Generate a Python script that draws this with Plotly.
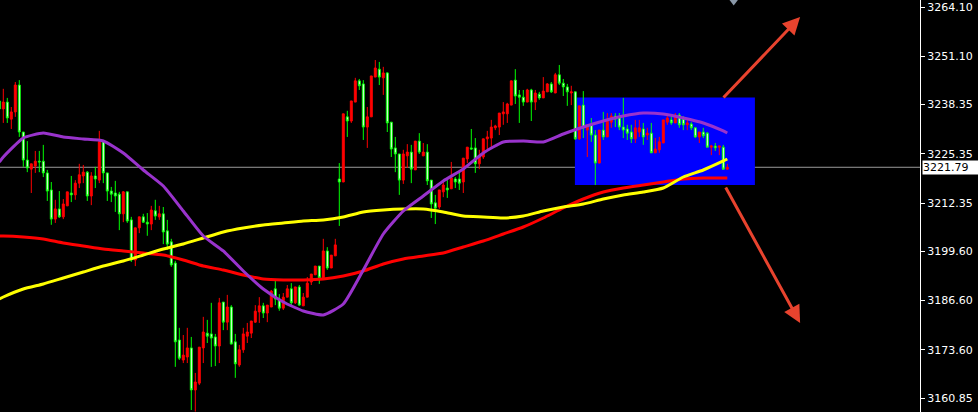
import plotly.graph_objects as go

# ---- candle data (index -1 .. 181) ----
idx = list(range(-1, 182))

opens = [
3239.3, 3237.2, 3239.0, 3234.5, 3236.4, 3243.5, 3231.1, 3223.7, 3221.3, 3222.1,
3223.4, 3223.4, 3220.3, 3215.8, 3208.1, 3210.8, 3208.7, 3211.6, 3215.0, 3214.5,
3217.6, 3219.5, 3220.5, 3214.2, 3219.5, 3218.4, 3228.7, 3220.3, 3215.5, 3215.0,
3214.7, 3209.5, 3215.3, 3207.9, 3197.3, 3205.8, 3208.7, 3207.3, 3206.8, 3210.3,
3208.7, 3209.5, 3205.0, 3202.1, 3196.5, 3176.2, 3170.9, 3171.7, 3174.1, 3163.0,
3164.8, 3174.1, 3178.0, 3177.8, 3177.0, 3174.6, 3186.2, 3180.9, 3184.9, 3175.7,
3169.6, 3173.6, 3177.2, 3178.0, 3180.9, 3183.6, 3185.2, 3183.3, 3184.9, 3189.7,
3187.0, 3184.6, 3187.5, 3189.7, 3186.0, 3190.2, 3185.2, 3187.5, 3191.5, 3193.4,
3195.7, 3192.6, 3199.7, 3195.2, 3198.4, 3218.7, 3217.9, 3235.1, 3234.0, 3239.0,
3244.6, 3243.8, 3232.4, 3235.1, 3245.6, 3247.7, 3245.4, 3246.7, 3233.7, 3226.9,
3225.3, 3218.4, 3224.8, 3225.8, 3221.1, 3228.7, 3224.8, 3225.8, 3218.4, 3212.4,
3211.3, 3215.3, 3216.3, 3216.1, 3218.7, 3218.7, 3217.9, 3224.0, 3226.9, 3226.9,
3222.7, 3224.5, 3229.3, 3229.5, 3232.2, 3232.4, 3235.9, 3235.9, 3238.2, 3244.8,
3240.9, 3240.3, 3239.0, 3242.2, 3239.0, 3241.1, 3240.1, 3241.7, 3243.8, 3241.4,
3246.2, 3244.0, 3243.0, 3241.4, 3241.7, 3229.3, 3238.2, 3231.6, 3233.0, 3230.3,
3222.9, 3231.6, 3229.8, 3233.7, 3235.3, 3234.8, 3232.4, 3231.9, 3231.1, 3229.3,
3231.1, 3231.9, 3230.3, 3230.8, 3225.6, 3226.4, 3228.2, 3233.7, 3234.3, 3233.5,
3235.6, 3234.5, 3233.0, 3233.2, 3232.2, 3229.8, 3231.1, 3230.8, 3227.1, 3227.4,
3227.1, 3227.1, 3221.3]

closes = [
3237.2, 3239.0, 3234.8, 3236.4, 3243.5, 3231.1, 3223.7, 3221.6, 3222.7, 3223.4,
3223.2, 3220.3, 3215.5, 3208.1, 3210.8, 3208.7, 3212.1, 3215.3, 3214.5, 3217.6,
3219.8, 3220.5, 3214.2, 3219.5, 3218.7, 3228.5, 3220.3, 3215.5, 3214.7, 3214.2,
3209.5, 3215.3, 3207.6, 3197.3, 3205.8, 3208.7, 3207.3, 3206.8, 3210.5, 3208.9,
3209.5, 3204.7, 3201.5, 3196.0, 3175.7, 3171.4, 3172.2, 3174.1, 3163.0, 3165.1,
3174.3, 3178.3, 3177.2, 3176.7, 3174.6, 3186.0, 3180.9, 3184.9, 3175.1, 3169.9,
3173.6, 3177.8, 3178.3, 3181.2, 3183.8, 3185.2, 3183.3, 3185.4, 3189.1, 3187.0,
3184.6, 3187.5, 3189.7, 3186.0, 3190.2, 3185.4, 3187.5, 3191.2, 3193.6, 3195.7,
3192.6, 3199.7, 3195.2, 3198.6, 3201.3, 3217.9, 3235.9, 3234.0, 3239.3, 3244.6,
3243.3, 3232.4, 3235.1, 3245.9, 3248.0, 3245.6, 3246.7, 3233.5, 3226.6, 3225.3,
3218.4, 3225.3, 3225.8, 3221.3, 3228.7, 3225.8, 3225.8, 3218.2, 3212.1, 3211.0,
3215.8, 3217.1, 3215.8, 3219.0, 3217.9, 3217.6, 3224.2, 3227.1, 3226.6, 3222.7,
3224.8, 3229.3, 3229.8, 3232.4, 3232.7, 3236.1, 3236.4, 3238.5, 3244.6, 3240.6,
3240.3, 3239.0, 3242.2, 3239.0, 3241.4, 3240.1, 3241.9, 3243.8, 3241.7, 3246.2,
3244.0, 3243.0, 3241.7, 3241.7, 3229.3, 3238.0, 3232.2, 3233.0, 3230.3, 3222.9,
3231.6, 3229.8, 3234.3, 3235.3, 3234.5, 3232.4, 3231.6, 3230.8, 3229.3, 3232.2,
3232.2, 3229.8, 3230.8, 3225.6, 3226.6, 3228.5, 3234.3, 3234.8, 3233.5, 3235.6,
3233.0, 3233.0, 3233.5, 3232.2, 3229.8, 3231.1, 3230.1, 3227.1, 3227.4, 3226.9,
3227.4, 3221.3, 3221.79]

highs = [
3240.1, 3242.5, 3240.1, 3237.7, 3244.3, 3244.8, 3231.1, 3228.7, 3222.7, 3226.1,
3226.1, 3227.7, 3221.1, 3217.9, 3213.2, 3215.5, 3213.4, 3215.3, 3219.5, 3218.4,
3222.7, 3222.4, 3220.8, 3220.5, 3221.9, 3231.4, 3229.0, 3220.3, 3216.6, 3218.2,
3215.3, 3215.5, 3215.3, 3208.7, 3205.8, 3208.7, 3209.5, 3209.7, 3211.6, 3213.2,
3211.6, 3211.3, 3207.9, 3202.9, 3197.1, 3179.4, 3177.5, 3179.4, 3177.0, 3167.5,
3174.3, 3182.3, 3181.5, 3186.0, 3177.8, 3187.3, 3186.2, 3188.1, 3185.4, 3177.8,
3174.9, 3179.4, 3180.7, 3181.2, 3185.4, 3187.5, 3186.0, 3185.4, 3189.4, 3192.3,
3188.3, 3188.6, 3190.7, 3191.2, 3190.2, 3190.7, 3188.6, 3192.8, 3193.6, 3195.7,
3195.7, 3202.9, 3200.7, 3198.6, 3202.9, 3222.9, 3235.9, 3236.7, 3239.3, 3245.4,
3245.1, 3244.8, 3237.7, 3245.9, 3250.1, 3249.6, 3248.3, 3246.9, 3233.7, 3229.8,
3225.3, 3226.4, 3227.9, 3227.7, 3228.7, 3230.8, 3228.2, 3227.9, 3218.4, 3214.5,
3215.8, 3218.2, 3218.4, 3223.2, 3219.2, 3220.3, 3224.2, 3227.1, 3231.9, 3229.5,
3226.4, 3229.3, 3231.4, 3234.3, 3233.0, 3236.1, 3239.0, 3238.8, 3244.6, 3247.7,
3242.2, 3242.2, 3242.5, 3242.5, 3242.2, 3241.7, 3245.6, 3244.0, 3244.3, 3246.7,
3248.8, 3245.1, 3243.8, 3243.3, 3241.7, 3238.0, 3241.9, 3233.0, 3234.8, 3231.6,
3231.6, 3236.4, 3236.1, 3236.1, 3236.1, 3236.1, 3240.1, 3233.0, 3233.0, 3234.3,
3234.3, 3233.5, 3232.2, 3233.5, 3229.5, 3229.8, 3234.3, 3235.6, 3235.3, 3236.1,
3236.1, 3235.3, 3234.3, 3233.7, 3232.4, 3231.1, 3232.2, 3231.1, 3227.7, 3228.2,
3227.4, 3227.7, 3222.7]

lows = [
3236.4, 3233.5, 3233.5, 3231.9, 3235.1, 3229.8, 3221.9, 3220.5, 3215.0, 3220.3,
3220.5, 3219.2, 3212.9, 3206.6, 3207.1, 3208.4, 3208.1, 3211.6, 3212.6, 3213.2,
3216.3, 3217.6, 3212.9, 3211.8, 3216.3, 3217.6, 3217.6, 3212.9, 3212.6, 3210.0,
3205.2, 3207.3, 3207.1, 3196.8, 3195.7, 3204.4, 3207.1, 3203.7, 3205.2, 3207.9,
3207.9, 3201.5, 3200.0, 3195.5, 3169.1, 3170.9, 3170.1, 3170.1, 3157.7, 3157.3,
3164.3, 3170.1, 3175.4, 3169.1, 3169.3, 3170.1, 3178.8, 3178.8, 3175.1, 3166.2,
3169.1, 3172.8, 3175.4, 3176.7, 3180.7, 3180.7, 3182.0, 3180.9, 3184.9, 3185.4,
3183.9, 3184.1, 3187.5, 3185.4, 3185.7, 3185.2, 3185.2, 3187.5, 3190.7, 3193.4,
3191.0, 3192.6, 3194.7, 3195.2, 3198.4, 3206.3, 3217.9, 3229.8, 3233.5, 3239.0,
3242.2, 3229.0, 3226.9, 3235.1, 3245.6, 3243.5, 3240.9, 3231.1, 3224.5, 3220.5,
3214.5, 3217.4, 3221.6, 3217.6, 3221.1, 3225.3, 3224.8, 3217.1, 3208.4, 3206.8,
3210.8, 3213.9, 3213.7, 3216.1, 3216.3, 3215.8, 3215.0, 3222.9, 3226.4, 3220.3,
3221.3, 3224.0, 3226.4, 3227.1, 3231.6, 3230.3, 3233.0, 3233.5, 3238.2, 3238.5,
3233.5, 3238.0, 3239.0, 3234.0, 3236.9, 3239.6, 3240.1, 3241.7, 3241.4, 3241.4,
3243.5, 3240.6, 3238.0, 3238.2, 3229.0, 3229.0, 3229.5, 3224.5, 3228.5, 3217.1,
3222.9, 3229.0, 3229.8, 3232.2, 3232.4, 3231.6, 3229.5, 3229.0, 3228.2, 3228.2,
3229.8, 3227.7, 3229.0, 3225.6, 3225.6, 3225.6, 3228.2, 3233.0, 3233.0, 3233.5,
3232.2, 3231.6, 3231.6, 3231.6, 3229.5, 3228.2, 3229.5, 3227.1, 3225.0, 3226.1,
3225.0, 3221.1, 3221.1]

# ---- moving averages, sampled along the candle index ----
ma_idx = [-1, 0, 5, 10, 15, 20, 25, 30, 35, 40, 45, 50, 55, 60, 65, 70, 75, 80, 85,
          90, 95, 100, 105, 110, 115, 120, 125, 130, 135, 140, 145, 150, 155, 160,
          165, 170, 175, 180, 181]

ma_purple = [3223.18, 3224.50, 3229.52, 3230.84, 3229.78, 3229.25, 3228.73, 3225.56,
             3221.07, 3216.85, 3210.25, 3203.65, 3199.69, 3194.41, 3189.65, 3186.22,
             3183.85, 3182.79, 3185.69, 3194.67, 3204.17, 3210.25, 3214.21, 3218.17,
             3221.33, 3225.56, 3228.46, 3228.73, 3228.46, 3230.57, 3232.42, 3234.01,
             3235.33, 3236.12, 3235.85, 3234.80, 3233.48, 3231.37, 3230.84]

ma_yellow = [3187.01, 3187.54, 3189.65, 3190.97, 3192.56, 3194.14, 3195.73, 3197.05,
             3198.63, 3200.21, 3201.53, 3203.12, 3204.70, 3205.76, 3206.55, 3207.08,
             3207.61, 3207.87, 3208.66, 3209.98, 3210.51, 3210.77, 3210.77, 3209.98,
             3208.93, 3208.66, 3208.40, 3208.93, 3210.25, 3211.30, 3212.09, 3213.41,
             3214.47, 3215.26, 3216.32, 3219.22, 3221.07, 3223.45, 3223.97]

ma_red = [3203.65, 3203.65, 3203.38, 3202.85, 3201.80, 3201.01, 3200.21, 3199.69,
          3199.16, 3198.63, 3197.31, 3195.73, 3194.67, 3193.35, 3192.29, 3192.03,
          3192.03, 3192.29, 3193.09, 3194.41, 3196.25, 3197.57, 3198.37, 3199.16,
          3200.74, 3202.33, 3204.17, 3206.02, 3208.40, 3211.04, 3213.41, 3215.26,
          3216.32, 3217.11, 3217.90, 3218.69, 3218.96, 3218.96, 3218.96]

# ---- axis ticks ----
tick_vals = [3264.10, 3251.10, 3238.35, 3225.35, 3212.35, 3199.60, 3186.60, 3173.60, 3160.85]
tick_text = ["3264.10", "3251.10", "3238.35", "3225.35", "3212.35", "3199.60",
             "3186.60", "3173.60", "3160.85"]
last_price = 3221.79

fig = go.Figure()

for vals, col, w in [(ma_red, "#ff0000", 3), (ma_yellow, "#ffff00", 3), (ma_purple, "#9933cc", 3)]:
    fig.add_trace(go.Scatter(x=ma_idx, y=vals, mode="lines",
                             line=dict(color=col, width=w, shape="spline", smoothing=0.5),
                             hoverinfo="skip", showlegend=False))

fig.add_trace(go.Candlestick(
    x=idx, open=opens, high=highs, low=lows, close=closes,
    increasing=dict(line=dict(color="#ff0000", width=1), fillcolor="#ff0000"),
    decreasing=dict(line=dict(color="#00ff00", width=1), fillcolor="#ffffff"),
    whiskerwidth=0, hoverinfo="skip", showlegend=False))

# small grey marker at the top
fig.add_trace(go.Scatter(x=[182.6], y=[3266.5], mode="markers",
                         marker=dict(symbol="triangle-down", size=15, color="#8a98a8"),
                         hoverinfo="skip", showlegend=False, cliponaxis=True))

fig.add_shape(type="rect", xref="x", yref="y", x0=142.9, x1=187.9, y0=3217.11, y1=3240.21,
              fillcolor="#0000ff", line=dict(width=0), layer="below")
fig.add_shape(type="line", xref="paper", yref="y", x0=0, x1=1, y0=last_price, y1=last_price,
              line=dict(color="#9a9a9a", width=1), layer="below")

arrow_col = "#e8432e"
fig.add_annotation(x=199.2, y=3261.46, ax=179.7, ay=3239.81, xref="x", yref="y",
                   axref="x", ayref="y", text="", showarrow=True, arrowhead=2,
                   arrowsize=1.15, arrowwidth=3, arrowcolor=arrow_col, standoff=0)
fig.add_annotation(x=199.2, y=3180.68, ax=180.4, ay=3216.85, xref="x", yref="y",
                   axref="x", ayref="y", text="", showarrow=True, arrowhead=2,
                   arrowsize=1.15, arrowwidth=3, arrowcolor=arrow_col, standoff=0)

fig.add_annotation(x=1, xref="paper", xanchor="left", xshift=1.5, y=last_price, yref="y",
                   yanchor="middle", text="3221.79", showarrow=False, bgcolor="#ffffff",
                   font=dict(family="DejaVu Sans", size=11, color="#000000"),
                   width=56, height=13, align="left", borderpad=0)

fig.update_layout(
    width=978, height=412,
    margin=dict(l=0, r=58, t=0, b=0, pad=0),
    paper_bgcolor="#000000", plot_bgcolor="#000000",
    showlegend=False,
    xaxis=dict(visible=False, range=[-0.825, 229.175], rangeslider=dict(visible=False),
               fixedrange=True),
    yaxis=dict(side="right", range=[3157.18, 3265.95], tickvals=tick_vals, ticktext=tick_text,
               showgrid=False, zeroline=False, showline=True, linecolor="#ffffff", linewidth=1,
               ticks="outside", ticklen=4, tickcolor="#ffffff",
               tickfont=dict(family="DejaVu Sans", size=11, color="#ffffff"), fixedrange=True),
)

fig.write_html("out.html", config={"displayModeBar": False},
               post_script="document.body.style.margin='0';document.body.style.overflow='hidden';")
